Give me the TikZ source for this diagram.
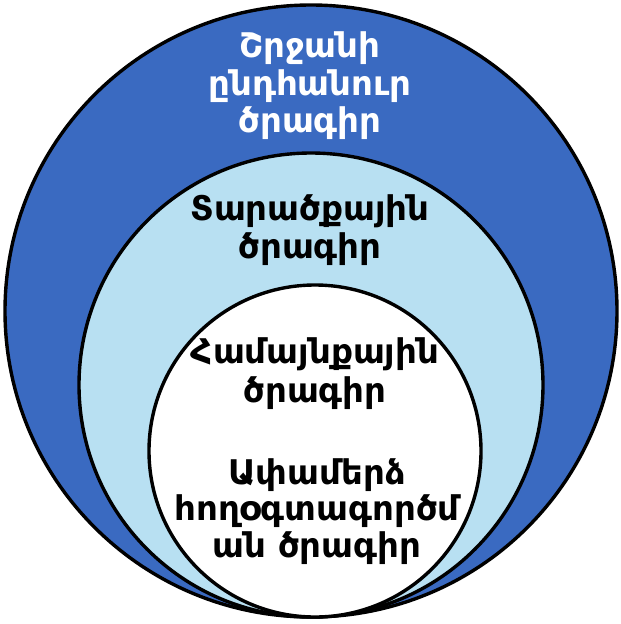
\documentclass[tikz,border=0pt]{standalone}
\usepackage{fontspec}
\newfontfamily\armfont{DejaVu Sans}
\definecolor{outerblue}{RGB}{58,106,193}
\definecolor{midblue}{RGB}{184,224,242}
\begin{document}
\begin{tikzpicture}[x=1pt,y=-1pt,
  ring/.style={draw=black,line width=3.4pt},
  lbl/.style={anchor=base,inner sep=0pt,font=\armfont\bfseries\fontsize{34}{40}\selectfont},
  wlbl/.style={lbl,text=white}]
\useasboundingbox (0,0) rectangle (621,624);
\fill[white] (0,0) rectangle (621,624);
\draw[ring,fill=outerblue] (311,311) circle[radius=306pt];
\draw[ring,fill=midblue] (311,385) circle[radius=232pt];
\draw[ring,fill=white] (315,451) circle[radius=166pt];
% outer
\node[wlbl] (o1) at (310,57) {Շրջանի};
\node[wlbl] (o2) at (310,95) {ընդհանուր};
\node[wlbl] (o3) at (310,132) {ծրագիր};
% middle
\node[lbl] (m1) at (310,220) {Տարածքային};
\node[lbl] (m2) at (310,258) {ծրագիր};
% inner
\node[lbl] (i1) at (315,363) {Համայնքային};
\node[lbl] (i2) at (315,402) {ծրագիր};
\node[lbl] (i3) at (317,484) {Ափամերձ};
\node[lbl] (i4) at (317,520) {հողօգտագործմ};
\node[lbl] (i5) at (317,557) {ան ծրագիր};
\end{tikzpicture}
\end{document}
